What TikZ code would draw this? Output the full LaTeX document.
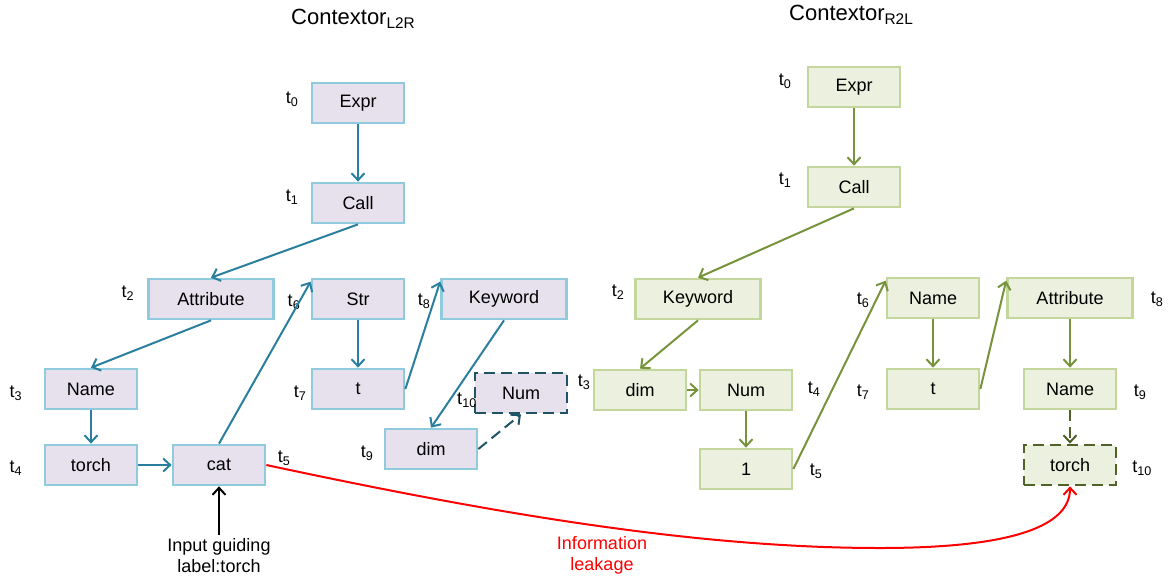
\documentclass[tikz,border=0pt]{standalone}
\usepackage{fontspec}
\setmainfont{Liberation Sans}
\usetikzlibrary{arrows.meta}
\definecolor{lfill}{HTML}{E6E1EC}
\definecolor{ldraw}{HTML}{8FCBDD}
\definecolor{larrow}{HTML}{2B7F9E}
\definecolor{ldash}{HTML}{1F5466}
\definecolor{rfill}{HTML}{EBF1DE}
\definecolor{rdraw}{HTML}{C3D69B}
\definecolor{rarrow}{HTML}{77933C}
\definecolor{rdash}{HTML}{4F6228}
\tikzset{
  txt/.style={font=\fontsize{18}{21}\selectfont},
  lbox/.style={txt, draw=ldraw, fill=lfill, line width=2.7pt, minimum width=92pt, minimum height=40pt, inner sep=0pt},
  rbox/.style={txt, draw=rdraw, fill=rfill, line width=2.7pt, minimum width=92pt, minimum height=40pt, inner sep=0pt},
  wide/.style={minimum width=125pt},
  ldashed/.style={draw=ldash, dash pattern=on 11pt off 6pt},
  rdashed/.style={draw=rdash, dash pattern=on 11pt off 6pt},
  tip/.style={-{Straight Barb[length=7pt,width=13pt,line width=2pt]}},
  larr/.style={tip, draw=larrow, line width=2pt},
  rarr/.style={tip, draw=rarrow, line width=2pt},
  tl/.style={txt, inner sep=0pt},
  ttl/.style={font=\fontsize{22}{26}\selectfont, inner sep=0pt, anchor=west},
}
\newcommand{\tsub}[1]{t\textsubscript{#1}}
\begin{document}
\begin{tikzpicture}[x=1pt,y=-1pt]
\useasboundingbox (0,0) rectangle (1169,579);
\fill[white] (0,0) rectangle (1169,579);

% titles
\node[ttl] (titleL) at (291,19) {Contextor\textsubscript{L2R}};
\node[ttl] (titleR) at (789,15) {Contextor\textsubscript{R2L}};

% left-to-right tree
\node[lbox] (lExpr) at (358,103) {Expr};
\node[lbox] (lCall) at (358,203) {Call};
\node[lbox,wide] (lAttr) at (211,299) {Attribute};
\node[lbox] (lStr) at (358,299) {Str};
\node[lbox,wide] (lKey) at (504,299) {Keyword};
\node[lbox] (lName) at (91,389) {Name};
\node[lbox] (lT) at (358,389) {t};
\node[lbox] (lTorch) at (91,465) {torch};
\node[lbox] (lCat) at (219,465) {cat};
\node[lbox] (lDim) at (431,449) {dim};
\node[lbox,ldashed] (lNum) at (521,393) {Num};

\node[tl] (lt0) at (292,99) {\tsub{0}};
\node[tl] (lt1) at (292,197) {\tsub{1}};
\node[tl] (lt2) at (128,293) {\tsub{2}};
\node[tl] (lt3) at (16,393) {\tsub{3}};
\node[tl] (lt4) at (16,468) {\tsub{4}};
\node[tl] (lt5) at (284,458) {\tsub{5}};
\node[tl] (lt6) at (294,302) {\tsub{6}};
\node[tl] (lt7) at (300,393) {\tsub{7}};
\node[tl] (lt8) at (424,301) {\tsub{8}};
\node[tl] (lt9) at (367,453) {\tsub{9}};
\node[tl] (lt10) at (467,400) {\tsub{10}};

\draw[larr] (lExpr) -- (lCall);
\draw[larr] (lCall.south) -- (lAttr.north);
\draw[larr] (lAttr.south) -- (lName.north);
\draw[larr] (lName) -- (lTorch);
\draw[larr] (lTorch) -- (lCat);
\draw[larr] (lCat.north) -- ([yshift=-4pt]lStr.north west);
\draw[larr] (lStr) -- (lT);
\draw[larr] (lT.east) -- ([yshift=-4pt]lKey.north west);
\draw[larr] (lKey.south) -- (lDim.north);
\draw[larr, dash pattern=on 11pt off 6pt, draw=ldash] (lDim.east) -- (lNum.south);

% right-to-left tree
\node[rbox] (rExpr) at (854,87) {Expr};
\node[rbox] (rCall) at (854,187) {Call};
\node[rbox,wide] (rKey) at (698,299) {Keyword};
\node[rbox] (rDim) at (640,390) {dim};
\node[rbox] (rNum) at (746,390) {Num};
\node[rbox] (rOne) at (746,469) {1};
\node[rbox] (rName) at (933,298) {Name};
\node[rbox] (rT) at (933,389) {t};
\node[rbox,wide] (rAttr) at (1070,298) {Attribute};
\node[rbox] (rName2) at (1070,389) {Name};
\node[rbox,rdashed] (rTorch) at (1070,465) {torch};

\node[tl] (rt0) at (785,81) {\tsub{0}};
\node[tl] (rt1) at (785,180) {\tsub{1}};
\node[tl] (rt2) at (618,292) {\tsub{2}};
\node[tl] (rt3) at (584,382) {\tsub{3}};
\node[tl] (rt4) at (814,389) {\tsub{4}};
\node[tl] (rt5) at (816,471) {\tsub{5}};
\node[tl] (rt6) at (863,300) {\tsub{6}};
\node[tl] (rt7) at (863,392) {\tsub{7}};
\node[tl] (rt8) at (1157,299) {\tsub{8}};
\node[tl] (rt9) at (1140,392) {\tsub{9}};
\node[tl] (rt10) at (1142,468) {\tsub{10}};

\draw[rarr] (rExpr) -- (rCall);
\draw[rarr] (rCall.south) -- (rKey.north);
\draw[rarr] (rKey.south) -- (rDim.north);
\draw[rarr] (rDim) -- (rNum);
\draw[rarr] (rNum) -- (rOne);
\draw[rarr] (rOne.east) -- ([yshift=-4pt]rName.north west);
\draw[rarr] (rName) -- (rT);
\draw[rarr] (rT.east) -- ([yshift=-4pt]rAttr.north west);
\draw[rarr] (rAttr) -- (rName2);
\draw[rarr, dash pattern=on 11pt off 6pt, draw=rdash] (rName2) -- (rTorch);

% guiding input and leakage
\coordinate (inTail) at (219,535);
\node[txt, align=center, inner sep=0pt] (inLbl) at (219,556) {Input guiding\\label:torch};
\draw[tip, draw=black, line width=2pt] (inTail) -- (lCat.south);

\draw[tip, draw=red, line width=2pt] (lCat.east) .. controls (500,515) and (700,548) .. (880,548)
  .. controls (1000,548) and (1070,530) .. (rTorch.south);
\node[txt, text=red, align=center, inner sep=0pt] (leak) at (602,555) {Information\\leakage};
\end{tikzpicture}
\end{document}
